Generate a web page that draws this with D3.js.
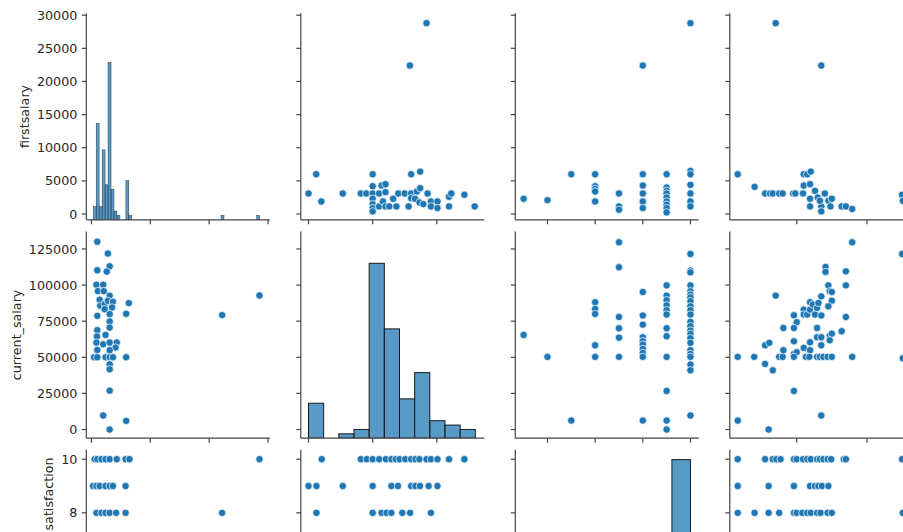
<!DOCTYPE html>
<html>
<head>
<meta charset="utf-8">
<script src="https://cdn.jsdelivr.net/npm/d3@7"></script>
<style>
  body { margin: 0; background: #fff; }
  text { font-family: "DejaVu Sans", sans-serif; fill: #262626; }
</style>
</head>
<body>
<svg id="grafico" width="903" height="532"></svg>
<script>
// variables of the pairplot (rows and columns)
const VARIAVEIS = ['firstsalary', 'current_salary', 'satisfaction', 'age'];

// axis limits of each variable (as matplotlib draws them)
const fsDomain  = [-870, 30300];
const curDomain = [-6000, 137000];
const satDomain = [2.65, 10.35];
const ageDomain = [20.47, 46.6];

// ticks
const fsTicksY  = [0, 5000, 10000, 15000, 20000, 25000, 30000];
const fsTicksX  = [0, 10000, 20000, 30000];
const curTicksY = [0, 25000, 50000, 75000, 100000, 125000];
const curTicksX = [0, 50000, 100000];
const satTicks  = [4, 6, 8, 10];
const ageTicks  = [30, 40];

// histograms on the diagonal
const fsBinRange  = [300, 28580];
const fsCounts    = [3,22,3,16,8,36,7,2,1,0,0,9,1,
                     0,0,0,0,0,0,0,0,0,0, 0,0,0,0,0,0,0,0,0,0, 0,0,0,0,0,0,0,0,0,0,
                     1, 0,0,0,0,0,0,0,0,0,0,0, 1];
const curBinRange = [0, 130000];
const curCounts   = [8,0,1,2,40,25,9,15,4,3,2];
const satBinRange = [3, 10];
const satCounts   = [1,1,1,5,0,6,24,26,45];

// scatter panels: [x, y]
// row firstsalary
const fsVsCur = [[0,3100],[6000,6000],[10000,1900],[26700,3100],[40800,3100],[45000,3100],[50000,6000],[50000,4200],
  [50000,3100],[50000,2300],[50000,1500],[50000,900],[50000,400],[55000,3100],[55000,1150],[57000,4300],[60000,4500],
  [60000,3300],[58000,1900],[60000,1150],[63000,1150],[66000,2300],[68500,1150],[70000,3100],[75000,3100],[78000,1150],
  [80000,6000],[80000,3100],[80000,2400],[83000,2300],[84500,3400],[87000,6400],[87000,3900],[86500,1750],[89500,1500],
  [92800,3100],[92000,28800],[79000,22400],[95400,1900],[95400,1150],[100500,1900],[100500,900],[109500,1150],
  [109500,2600],[111300,3100],[121500,2900],[129500,1150]];
const fsVsSat = [[3,2300],[4,2100],[5,6000],[6,6000],[6,4200],[6,3800],[6,3400],[6,1900],[7,3100],[7,1150],[7,650],
  [8,22400],[8,6000],[8,4300],[8,3100],[8,1900],[8,900],[9,6000],[9,4000],[9,3500],[9,3100],[9,2500],[9,1900],[9,1400],
  [9,900],[9,250],[10,28800],[10,6500],[10,6000],[10,4400],[10,3100],[10,1900],[10,1150]];
const fsVsAge = [[21.6,6000],[24,4100],[25.5,3100],[26.2,3100],[26.6,3100],[27.5,3100],[28,3100],[27,28800],[29.5,3100],
  [29.8,3100],[31,6000],[31.5,6000],[32,6400],[31,4300],[31.9,4500],[30.9,3100],[31.9,2300],[31.9,1150],[32.6,3500],
  [33,2500],[33.5,22400],[33.5,1150],[33.5,400],[33.3,2000],[34,3100],[34.5,2000],[35,2300],[34.8,1150],[36.4,1150],
  [37,1150],[37.9,750],[45,2900],[45.1,2000]];

// row current_salary
const curVsFs = [[1000,130000],[2800,121800],[3100,113000],[2600,109300],[1000,110200],[850,100200],[2000,100200],
  [1100,95800],[2100,95800],[3100,92600],[1400,89800],[1500,85700],[2250,86800],[2800,89100],[3650,88400],[3500,84500],
  [2250,83300],[3100,79900],[5900,80100],[6350,87500],[1000,78700],[3100,74800],[3100,70600],[1000,68800],[950,64400],
  [2400,65500],[850,60200],[2000,59000],[3100,60200],[4300,60200],[4100,56700],[1000,55100],[3100,54900],[450,50000],
  [1000,50000],[2400,50000],[3100,50000],[3650,50000],[5900,50000],[3100,45100],[3100,41700],[3100,26900],[2000,9700],
  [5900,6000],[3100,0],[22200,79200],[28550,92800]];
const curVsSat = [[3,65500],[4,50300],[5,6200],[6,88100],[6,83500],[6,80000],[6,58300],[6,50300],
  [7,129600],[7,112300],[7,77900],[7,70100],[7,63600],[7,50300],
  [8,95200],[8,78900],[8,72600],[8,63900],[8,61100],[8,58800],[8,55800],[8,53000],[8,50300],[8,6200],
  [9,99800],[9,92700],[9,89500],[9,86000],[9,82600],[9,79600],[9,70100],[9,64600],[9,50300],[9,26700],[9,6200],[9,0],
  [10,121500],[10,110000],[10,108800],[10,99800],[10,95700],[10,93400],[10,91500],[10,88800],[10,85300],[10,82600],
  [10,79600],[10,74500],[10,71500],[10,68500],[10,66200],[10,63200],[10,60000],[10,54900],[10,52300],[10,50300],
  [10,45000],[10,41000],[10,9700]];
const curVsAge = [[21.6,50300],[21.6,6200],[23.95,50300],[25.5,45400],[25.5,58300],[26.1,60000],[26,0],[26.6,41000],
  [27,92700],[27.5,50300],[28,50300],[28.1,54900],[28.1,70300],[29.6,79100],[30,74300],[29.6,70300],[29.6,61100],
  [29.6,52300],[30,53500],[29.6,50300],[29.6,26700],[31,83000],[31,79600],[31.9,88100],[31.5,79600],[31.9,83000],
  [32.3,86500],[32.6,79600],[32.9,84200],[33.1,87600],[33.5,92200],[33.5,78900],[32.9,70300],[32.9,63900],[33.5,63900],
  [33.5,58300],[31.9,60400],[31,56500],[31.9,54900],[31.3,50300],[31.8,50300],[32.9,50300],[33.3,50300],[33.8,50300],
  [34.4,50300],[35,50300],[33.5,9700],[34.1,112500],[34.1,109100],[34.5,99800],[34.7,95700],[35,95200],[35,89200],
  [34.5,85300],[34.7,65000],[35,66400],[34.7,61800],[36.4,68000],[37,109500],[37,99800],[37,77900],[37.9,129600],
  [37.9,50300],[45,121500],[45.1,49300]];

// row satisfaction
const satVsFs = [[560,10],[1000,10],[1700,10],[2400,10],[3100,10],[4300,10],[5800,10],[6460,10],[28550,10],
  [280,9],[850,9],[1400,9],[2400,9],[3100,9],[3650,9],[5800,9],
  [850,8],[1700,8],[2400,8],[3100,8],[4200,8],[5800,8],[22200,8]];
const satVsCur = [[10300,10],[40800,10],[45400,10],[50000,10],[55100,10],[60300,10],[64600,10],[68000,10],[71000,10],
  [75400,10],[80000,10],[83300,10],[86400,10],[92000,10],[95400,10],[100500,10],[109500,10],[121500,10],
  [0,9],[6200,9],[26700,9],[50000,9],[64600,9],[69700,9],[80000,9],[83300,9],[86900,9],[93600,9],[100500,9],
  [6200,8],[50000,8],[56900,8],[60800,8],[64600,8],[73100,8],[79200,8],[95400,8]];
const satVsAge = [[21.6,10],[25.5,10],[26.6,10],[27.1,10],[27.7,10],[29.6,10],[30,10],[30.9,10],[31.5,10],[32,10],
  [32.9,10],[33.3,10],[33.8,10],[34.4,10],[34.9,10],[36.7,10],[37,10],[45,10],
  [21.6,9],[26,9],[29.6,9],[31.9,9],[32.6,9],[33.1,9],[33.6,9],[34.5,9],
  [21.6,8],[24,8],[26,8],[27.5,8],[29.6,8],[30,8],[30.8,8],[31.5,8],[32,8],[32.9,8],[33.4,8],[34.4,8],[35,8],[45.1,8]];

// grid geometry
const W = 903, H = 532;
const COL_X = [86.3, 300.8, 515.3, 729.8];
const COL_W = 183.5;
const ROW_Y = [13.2, 231.6, 449.8];
const ROW_H = 206.6;
// vertical centre of each row label (the last row is cut by the picture edge)
const LABEL_CY = [ROW_Y[0] + ROW_H / 2, ROW_Y[1] + ROW_H / 2, 494];
const AZUL = '#1f77b4';
const TICK = 4.5;

const DOMINIOS = { firstsalary: fsDomain, current_salary: curDomain, satisfaction: satDomain, age: ageDomain };
const TICKS_Y  = { firstsalary: fsTicksY, current_salary: curTicksY, satisfaction: satTicks, age: ageTicks };
const TICKS_X  = { firstsalary: fsTicksX, current_salary: curTicksX, satisfaction: satTicks, age: ageTicks };
const HISTS = {
  firstsalary:    { range: fsBinRange,  counts: fsCounts,  lw: 0.4 },
  current_salary: { range: curBinRange, counts: curCounts, lw: 1 },
  satisfaction:   { range: satBinRange, counts: satCounts, lw: 1 }
};
const SCATTERS = {
  'firstsalary|current_salary': fsVsCur, 'firstsalary|satisfaction': fsVsSat, 'firstsalary|age': fsVsAge,
  'current_salary|firstsalary': curVsFs, 'current_salary|satisfaction': curVsSat, 'current_salary|age': curVsAge,
  'satisfaction|firstsalary': satVsFs, 'satisfaction|current_salary': satVsCur, 'satisfaction|age': satVsAge
};

const $svg = d3.select('#grafico');
$svg.append('rect').attr('width', W).attr('height', H).attr('fill', '#fff');

// count axis shared by all diagonal histograms
const maxCount = d3.max([fsCounts, curCounts, satCounts].flat());

function desenhaPainel(r, c) {
  const rowVar = VARIAVEIS[r], colVar = VARIAVEIS[c];
  const x0 = COL_X[c], y0 = ROW_Y[r];
  const x = d3.scaleLinear().domain(DOMINIOS[colVar]).range([x0, x0 + COL_W]);
  const y = d3.scaleLinear().domain(DOMINIOS[rowVar]).range([y0 + ROW_H, y0]);

  const clipId = `clip-${r}-${c}`;
  $svg.append('clipPath').attr('id', clipId)
    .append('rect').attr('x', x0).attr('y', y0).attr('width', COL_W).attr('height', ROW_H);
  const $g = $svg.append('g').attr('clip-path', `url(#${clipId})`);

  if (r === c) {
    const h = HISTS[rowVar];
    const n = h.counts.length;
    const w = (h.range[1] - h.range[0]) / n;
    const yc = d3.scaleLinear().domain([0, maxCount * 1.05]).range([y0 + ROW_H, y0]);
    $g.selectAll('rect.bar')
      .data(h.counts.map((v, i) => ({ x0: h.range[0] + i * w, x1: h.range[0] + (i + 1) * w, v })).filter(d => d.v > 0))
      .enter().append('rect')
      .attr('x', d => x(d.x0))
      .attr('y', d => yc(d.v))
      .attr('width', d => x(d.x1) - x(d.x0))
      .attr('height', d => yc(0) - yc(d.v))
      .attr('fill', AZUL).attr('fill-opacity', 0.75)
      .attr('stroke', '#1a1a1a').attr('stroke-width', h.lw);
  } else {
    $g.selectAll('circle')
      .data(SCATTERS[rowVar + '|' + colVar])
      .enter().append('circle')
      .attr('cx', d => x(d[0]))
      .attr('cy', d => y(d[1]))
      .attr('r', 3.7)
      .attr('fill', AZUL)
      .attr('stroke', '#fff').attr('stroke-width', 0.7);
  }

  // only left and bottom spines (despine)
  const $ax = $svg.append('g').attr('stroke', '#444').attr('stroke-width', 1.2);
  $ax.append('line').attr('x1', x0).attr('x2', x0).attr('y1', y0).attr('y2', y0 + ROW_H);
  $ax.append('line').attr('x1', x0).attr('x2', x0 + COL_W).attr('y1', y0 + ROW_H).attr('y2', y0 + ROW_H);

  $ax.selectAll('line.ty').data(TICKS_Y[rowVar]).enter().append('line')
    .attr('x1', x0 - TICK).attr('x2', x0).attr('y1', d => y(d)).attr('y2', d => y(d));
  $ax.selectAll('line.tx').data(TICKS_X[colVar]).enter().append('line')
    .attr('x1', d => x(d)).attr('x2', d => x(d)).attr('y1', y0 + ROW_H).attr('y2', y0 + ROW_H + TICK);

  // tick labels and ylabel only in the first column
  if (c === 0) {
    // labels that would fall below the picture edge are left out
    const $labels = $svg.append('g').selectAll('text')
      .data(TICKS_Y[rowVar].filter(d => y(d) < H - 8)).enter().append('text')
      .attr('x', x0 - TICK - 4.5)
      .attr('y', d => y(d))
      .attr('dy', '0.36em')
      .attr('text-anchor', 'end')
      .style('font-size', '12.7px')
      .text(d => d);
    const maxW = d3.max($labels.nodes(), n => n.getComputedTextLength());
    const lx = x0 - TICK - 4.5 - maxW - 5 - 3;
    $svg.append('text')
      .attr('transform', `translate(${lx},${LABEL_CY[r]}) rotate(-90)`)
      .attr('text-anchor', 'middle')
      .style('font-size', '12.7px')
      .text(rowVar);
  }
}

for (let r = 0; r < 3; r++) {
  for (let c = 0; c < 4; c++) desenhaPainel(r, c);
}
</script>
</body>
</html>
